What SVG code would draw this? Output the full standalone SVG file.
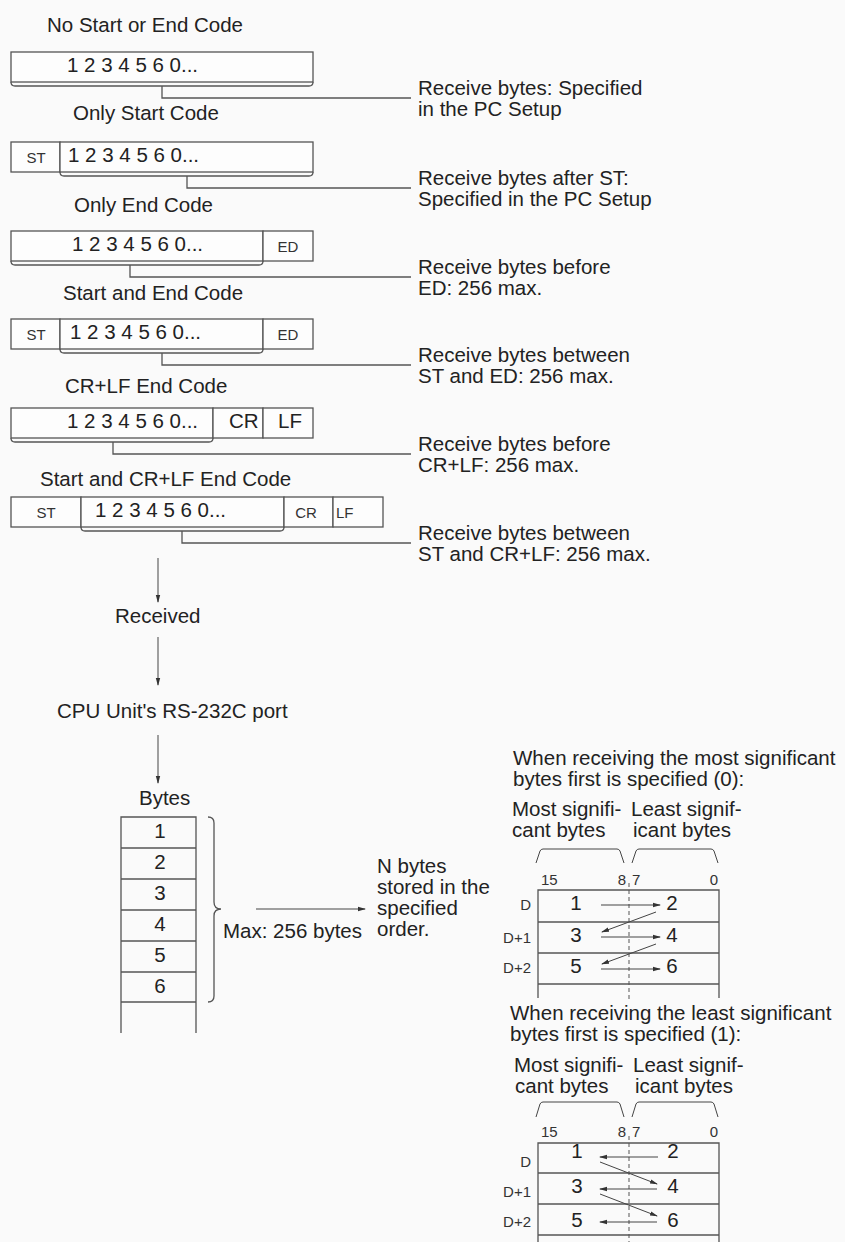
<svg xmlns="http://www.w3.org/2000/svg" width="845" height="1242" viewBox="0 0 845 1242">
<defs>
<style>
.t{font-family:"Liberation Sans",Arial,sans-serif;font-size:20.5px;fill:#222}
.s{font-family:"Liberation Sans",Arial,sans-serif;font-size:15px;fill:#333}
.m{text-anchor:middle}
.e{text-anchor:end}
.bx{fill:#fdfdfd;stroke:#555;stroke-width:1.3}
.ln{fill:none;stroke:#555;stroke-width:1.3}
.th{fill:none;stroke:#444;stroke-width:1}
.ds{fill:none;stroke:#555;stroke-width:1;stroke-dasharray:4 3}
</style>
<marker id="ah" markerWidth="8" markerHeight="6" refX="7" refY="3" orient="auto" markerUnits="userSpaceOnUse">
<path d="M0,0.8 L8,3 L0,5.2 z" fill="#333"/>
</marker>
</defs>
<rect x="0" y="0" width="845" height="1242" fill="#fafafa"/>

<g id="sec1">
<text class="t" x="47" y="32">No Start or End Code</text>
<rect class="bx" x="11" y="52" width="302" height="30"/>
<text class="t" x="67" y="72">1 2 3 4 5 6 0...</text>
<text class="t" x="418" y="95">Receive bytes: Specified</text>
<text class="t" x="418" y="116">in the PC Setup</text>
</g>
<g id="sec2">
<text class="t" x="73" y="120">Only Start Code</text>
<rect class="bx" x="11" y="142" width="49" height="30"/>
<rect class="bx" x="60" y="142" width="253" height="30"/>
<text class="s m" x="36" y="163">ST</text>
<text class="t" x="68" y="162">1 2 3 4 5 6 0...</text>
<text class="t" x="418" y="185">Receive bytes after ST:</text>
<text class="t" x="418" y="206">Specified in the PC Setup</text>
</g>
<g id="sec3">
<text class="t" x="74" y="212">Only End Code</text>
<rect class="bx" x="11" y="231" width="252" height="30"/>
<rect class="bx" x="263" y="231" width="50" height="30"/>
<text class="t" x="72" y="251">1 2 3 4 5 6 0...</text>
<text class="s m" x="288" y="252">ED</text>
<text class="t" x="418" y="274">Receive bytes before</text>
<text class="t" x="418" y="295">ED: 256 max.</text>
</g>
<g id="sec4">
<text class="t" x="63" y="300">Start and End Code</text>
<rect class="bx" x="11" y="319" width="49" height="30"/>
<rect class="bx" x="60" y="319" width="203" height="30"/>
<rect class="bx" x="263" y="319" width="50" height="30"/>
<text class="s m" x="36" y="340">ST</text>
<text class="t" x="70" y="339">1 2 3 4 5 6 0...</text>
<text class="s m" x="288" y="340">ED</text>
<text class="t" x="418" y="362">Receive bytes between</text>
<text class="t" x="418" y="383">ST and ED: 256 max.</text>
</g>
<g id="sec5">
<text class="t" x="65" y="393">CR+LF End Code</text>
<rect class="bx" x="11" y="408" width="202" height="30"/>
<rect class="bx" x="213" y="408" width="50" height="30"/>
<rect class="bx" x="263" y="408" width="50" height="30"/>
<text class="t" x="67" y="428">1 2 3 4 5 6 0...</text>
<text class="t" x="229" y="428">CR</text>
<text class="t" x="278" y="428">LF</text>
<text class="t" x="418" y="451">Receive bytes before</text>
<text class="t" x="418" y="472">CR+LF: 256 max.</text>
</g>
<g id="sec6">
<text class="t" x="40" y="486">Start and CR+LF End Code</text>
<rect class="bx" x="11" y="497" width="70" height="30"/>
<rect class="bx" x="81" y="497" width="203" height="30"/>
<rect class="bx" x="284" y="497" width="49" height="30"/>
<rect class="bx" x="333" y="497" width="50" height="30"/>
<text class="s m" x="46" y="518">ST</text>
<text class="t" x="95" y="517">1 2 3 4 5 6 0...</text>
<text class="s m" x="306" y="518">CR</text>
<text class="s" x="336" y="518">LF</text>
<text class="t" x="418" y="540">Receive bytes between</text>
<text class="t" x="418" y="561">ST and CR+LF: 256 max.</text>
</g>

<g id="flow">
<text class="t" x="115" y="623">Received</text>
<text class="t" x="57" y="718">CPU Unit's RS-232C port</text>
<text class="t" x="139" y="805">Bytes</text>
</g>

<g id="stack">
<path class="ln" d="M121,1033 V817 H196 V1033 M121,848 H196 M121,879 H196 M121,910 H196 M121,941 H196 M121,972 H196 M121,1002 H196"/>
<text class="t m" x="160" y="838">1</text>
<text class="t m" x="160" y="869">2</text>
<text class="t m" x="160" y="900">3</text>
<text class="t m" x="160" y="931">4</text>
<text class="t m" x="160" y="962">5</text>
<text class="t m" x="160" y="993">6</text>
<path class="ln" d="M208,817 Q214,817 214,823 V902 Q214,909 221,909 Q214,909 214,916 V996 Q214,1002 208,1002"/>
<text class="t" x="223" y="938">Max: 256 bytes</text>
</g>

<g id="stored">
<text class="t" x="377" y="873">N bytes</text>
<text class="t" x="377" y="894">stored in the</text>
<text class="t" x="377" y="915">specified</text>
<text class="t" x="377" y="936">order.</text>
</g>

<g id="msb">
<text class="t" x="513" y="765">When receiving the most significant</text>
<text class="t" x="513" y="786">bytes first is specified (0):</text>
<text class="t" x="512" y="816">Most signifi-</text>
<text class="t" x="512" y="837">cant bytes</text>
<text class="t" x="631" y="816">Least signif-</text>
<text class="t" x="633" y="837">icant bytes</text>
<path class="th" d="M536,863 L540,851 Q541,849 543,849 H617 Q619,849 620,851 L624,863 M632,863 L636,851 Q637,849 639,849 H711 Q713,849 714,851 L718,863"/>
<text class="s" x="541" y="885">15</text>
<text class="s e" x="626" y="885">8</text>
<text class="s" x="632" y="885">7</text>
<text class="s e" x="718" y="885">0</text>
<path class="ln" d="M538,998 V890 H719 V998 M538,922 H719 M538,953 H719 M538,984 H719"/>
<path class="ds" d="M629,883 V1000"/>
<text class="s e" x="531" y="910">D</text>
<text class="s e" x="531" y="943">D+1</text>
<text class="s e" x="531" y="973">D+2</text>
<text class="t m" x="576" y="910">1</text>
<text class="t m" x="672" y="910">2</text>
<text class="t m" x="576" y="942">3</text>
<text class="t m" x="672" y="942">4</text>
<text class="t m" x="576" y="973">5</text>
<text class="t m" x="672" y="973">6</text>
</g>

<g id="lsb">
<text class="t" x="510" y="1020">When receiving the least significant</text>
<text class="t" x="510" y="1041">bytes first is specified (1):</text>
<text class="t" x="514" y="1072">Most signifi-</text>
<text class="t" x="633" y="1072">Least signif-</text>
<text class="t" x="515" y="1093">cant bytes</text>
<text class="t" x="635" y="1093">icant bytes</text>
<path class="th" d="M536,1117 L540,1104 Q541,1102 543,1102 H617 Q619,1102 620,1104 L624,1117 M632,1117 L636,1104 Q637,1102 639,1102 H711 Q713,1102 714,1104 L718,1117"/>
<text class="s" x="541" y="1137">15</text>
<text class="s e" x="626" y="1137">8</text>
<text class="s" x="632" y="1137">7</text>
<text class="s e" x="718" y="1137">0</text>
<path class="ln" d="M538,1242 V1143 H719 V1242 M538,1173 H719 M538,1204 H719 M538,1235 H719"/>
<path class="ds" d="M629,1136 V1242"/>
<text class="s e" x="531" y="1167">D</text>
<text class="s e" x="531" y="1197">D+1</text>
<text class="s e" x="531" y="1227">D+2</text>
<text class="t m" x="577" y="1158">1</text>
<text class="t m" x="673" y="1158">2</text>
<text class="t m" x="577" y="1193">3</text>
<text class="t m" x="673" y="1193">4</text>
<text class="t m" x="577" y="1227">5</text>
<text class="t m" x="673" y="1227">6</text>
</g>

<g id="connectors">
<path class="ln" d="M11,82 Q11,86 15,86 H309 Q313,86 313,82 M162,86 V98 H411"/>
<path class="ln" d="M60,172 Q60,176 64,176 H309 Q313,176 313,172 M187,176 V188 H411"/>
<path class="ln" d="M11,261 Q11,265 15,265 H259 Q263,265 263,261 M130,265 V277 H411"/>
<path class="ln" d="M60,349 Q60,353 64,353 H259 Q263,353 263,349 M162,353 V365 H411"/>
<path class="ln" d="M11,438 Q11,442 15,442 H209 Q213,442 213,438 M113,442 V454 H411"/>
<path class="ln" d="M81,527 Q81,531 85,531 H280 Q284,531 284,527 M182,531 V543 H411"/>
<line class="th" x1="158" y1="558" x2="158" y2="602" marker-end="url(#ah)"/>
<line class="th" x1="158" y1="637" x2="158" y2="685" marker-end="url(#ah)"/>
<line class="th" x1="158" y1="735" x2="158" y2="783" marker-end="url(#ah)"/>
<line class="th" x1="256" y1="909" x2="365" y2="909" marker-end="url(#ah)"/>
<line class="th" x1="601" y1="905" x2="660" y2="905" marker-end="url(#ah)"/>
<line class="th" x1="656" y1="912" x2="602" y2="932" marker-end="url(#ah)"/>
<line class="th" x1="601" y1="937" x2="660" y2="937" marker-end="url(#ah)"/>
<line class="th" x1="656" y1="944" x2="602" y2="964" marker-end="url(#ah)"/>
<line class="th" x1="601" y1="969" x2="660" y2="969" marker-end="url(#ah)"/>
<line class="th" x1="658" y1="1157" x2="600" y2="1157" marker-end="url(#ah)"/>
<line class="th" x1="600" y1="1162" x2="657" y2="1184" marker-end="url(#ah)"/>
<line class="th" x1="657" y1="1189" x2="600" y2="1189" marker-end="url(#ah)"/>
<line class="th" x1="600" y1="1194" x2="657" y2="1216" marker-end="url(#ah)"/>
<line class="th" x1="657" y1="1222" x2="600" y2="1222" marker-end="url(#ah)"/>
</g>
</svg>
